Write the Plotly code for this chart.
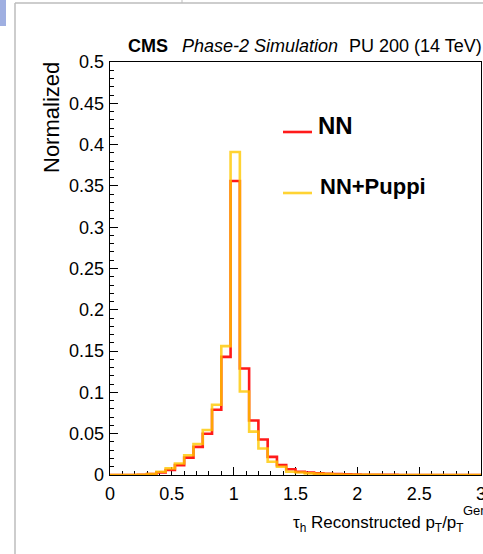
import plotly.graph_objects as go

# ---- data ----
bin_edges = [round(i * 0.075, 3) for i in range(41)]
nn_values = [0.0, 0.0, 0.0, 0.0002, 0.001, 0.003, 0.006, 0.012, 0.021, 0.034,
             0.050, 0.079, 0.143, 0.356, 0.129, 0.066, 0.043, 0.022, 0.012, 0.007,
             0.004, 0.003, 0.002, 0.0015, 0.001, 0.0008, 0.0005, 0.0003, 0.0002, 0.0001,
             0.0001, 0.0, 0.0, 0.0, 0.0, 0.0, 0.0, 0.0, 0.0, 0.0]
puppi_values = [0.0, 0.0, 0.0, 0.0002, 0.001, 0.004, 0.008, 0.014, 0.024, 0.0375,
                0.0545, 0.085, 0.156, 0.391, 0.101, 0.0525, 0.032, 0.016, 0.010, 0.004,
                0.003, 0.002, 0.0015, 0.001, 0.0005, 0.0003, 0.0002, 0.0001, 0.0001, 0.0,
                0.0, 0.0, 0.0, 0.0, 0.0, 0.0, 0.0, 0.0, 0.0, 0.0]
series_names = ["NN", "NN+Puppi"]
x_ticks = [0, 0.5, 1, 1.5, 2, 2.5, 3]
y_ticks = [0, 0.05, 0.1, 0.15, 0.2, 0.25, 0.3, 0.35, 0.4, 0.45, 0.5]

# ---- layout geometry ----
W, H = 483, 554
L, R, T, B = 110, 481, 62, 475
FONT = "Liberation Sans, Arial, Helvetica, sans-serif"
RED = "#ff1a1a"
YEL = "rgba(255,200,0,0.8)"


def px(x):
    return (x - L) / (R - L)


def py(y):
    return (B - y) / (B - T)


fig = go.Figure()
for vals, col, name in [(nn_values, RED, series_names[0]), (puppi_values, YEL, series_names[1])]:
    fig.add_trace(go.Scatter(
        x=bin_edges, y=vals + [vals[-1]], mode="lines", line_shape="hv",
        line=dict(color=col, width=2.6), name=name, showlegend=False,
        hoverinfo="skip"))

axis_common = dict(showline=True, linecolor="black", linewidth=1.3, mirror=True,
                   ticks="inside", tickcolor="black", showgrid=False, zeroline=False,
                   tickfont=dict(family=FONT, size=18, color="black"),
                   layer="below traces", automargin=False, ticklabeloverflow="allow")

fig.update_layout(
    width=W, height=H,
    margin=dict(l=L, r=W - R, t=T, b=H - B, autoexpand=False),
    paper_bgcolor="white", plot_bgcolor="white",
    xaxis=dict(range=[0, 3], tickvals=x_ticks, ticktext=[f"{v:g}" for v in x_ticks],
               ticklen=8, minor=dict(ticks="inside", ticklen=4, dtick=0.1, tickcolor="black"),
               ticklabelstandoff=2, **axis_common),
    yaxis=dict(range=[0, 0.5], tickvals=y_ticks, ticktext=[f"{v:g}" for v in y_ticks],
               ticklen=8, minor=dict(ticks="inside", ticklen=4, dtick=0.01, tickcolor="black"),
               ticklabelstandoff=1, **axis_common),
    showlegend=False,
)

ann = []
# header
ann.append(dict(text="<b>CMS</b>", x=px(126), y=py(46), xanchor="left", yanchor="middle",
                font=dict(family=FONT, size=18, color="black")))
ann.append(dict(text="<i>Phase-2 Simulation</i>", x=px(180), y=py(46), xanchor="left", yanchor="middle",
                font=dict(family=FONT, size=18, color="black")))
ann.append(dict(text="PU 200 (14 TeV)", x=px(347), y=py(46), xanchor="left", yanchor="middle",
                font=dict(family=FONT, size=18, color="black")))
# axis titles
ann.append(dict(text="Normalized", x=px(52), y=py(118), textangle=-90, xanchor="center", yanchor="middle",
                font=dict(family=FONT, size=22, color="black")))
ann.append(dict(text="τ<sub>h</sub> Reconstructed p<sub>T</sub>/p<sub>T</sub>", x=px(466), y=py(524),
                xanchor="right", yanchor="middle", font=dict(family=FONT, size=17, color="black")))
ann.append(dict(text="Gen", x=px(461), y=py(510), xanchor="left", yanchor="middle",
                font=dict(family=FONT, size=13, color="black")))
# legend
ann.append(dict(text="<b>NN</b>", x=px(316), y=py(126), xanchor="left", yanchor="middle",
                font=dict(family=FONT, size=24, color="black")))
ann.append(dict(text="<b>NN+Puppi</b>", x=px(318), y=py(186), xanchor="left", yanchor="middle",
                font=dict(family=FONT, size=22, color="black")))
for a in ann:
    a.update(xref="paper", yref="paper", showarrow=False)
fig.update_layout(annotations=ann)

shapes = [
    dict(type="line", x0=px(283), x1=px(312), y0=py(132), y1=py(132), line=dict(color=RED, width=2.6)),
    dict(type="line", x0=px(283), x1=px(312), y0=py(193), y1=py(193), line=dict(color=YEL, width=2.6)),
    # screenshot frame
    dict(type="line", x0=px(15), x1=px(15), y0=py(3), y1=py(554), line=dict(color="#bdbdbd", width=1.5)),
    dict(type="line", x0=px(15), x1=px(483), y0=py(3), y1=py(3), line=dict(color="#bdbdbd", width=1.5)),
    dict(type="line", x0=px(182), x1=px(182), y0=py(0), y1=py(3), line=dict(color="#bdbdbd", width=1)),
    dict(type="rect", x0=px(0), x1=px(6), y0=py(0), y1=py(26), line=dict(width=0),
         fillcolor="rgba(80,110,200,0.55)"),
]
for s in shapes:
    s.update(xref="paper", yref="paper")
fig.update_layout(shapes=shapes)

fig.write_html("out.html", config={"displayModeBar": False, "staticPlot": True},
               post_script="document.body.style.margin='0';document.body.style.padding='0';"
                           "document.body.style.overflow='hidden';")
